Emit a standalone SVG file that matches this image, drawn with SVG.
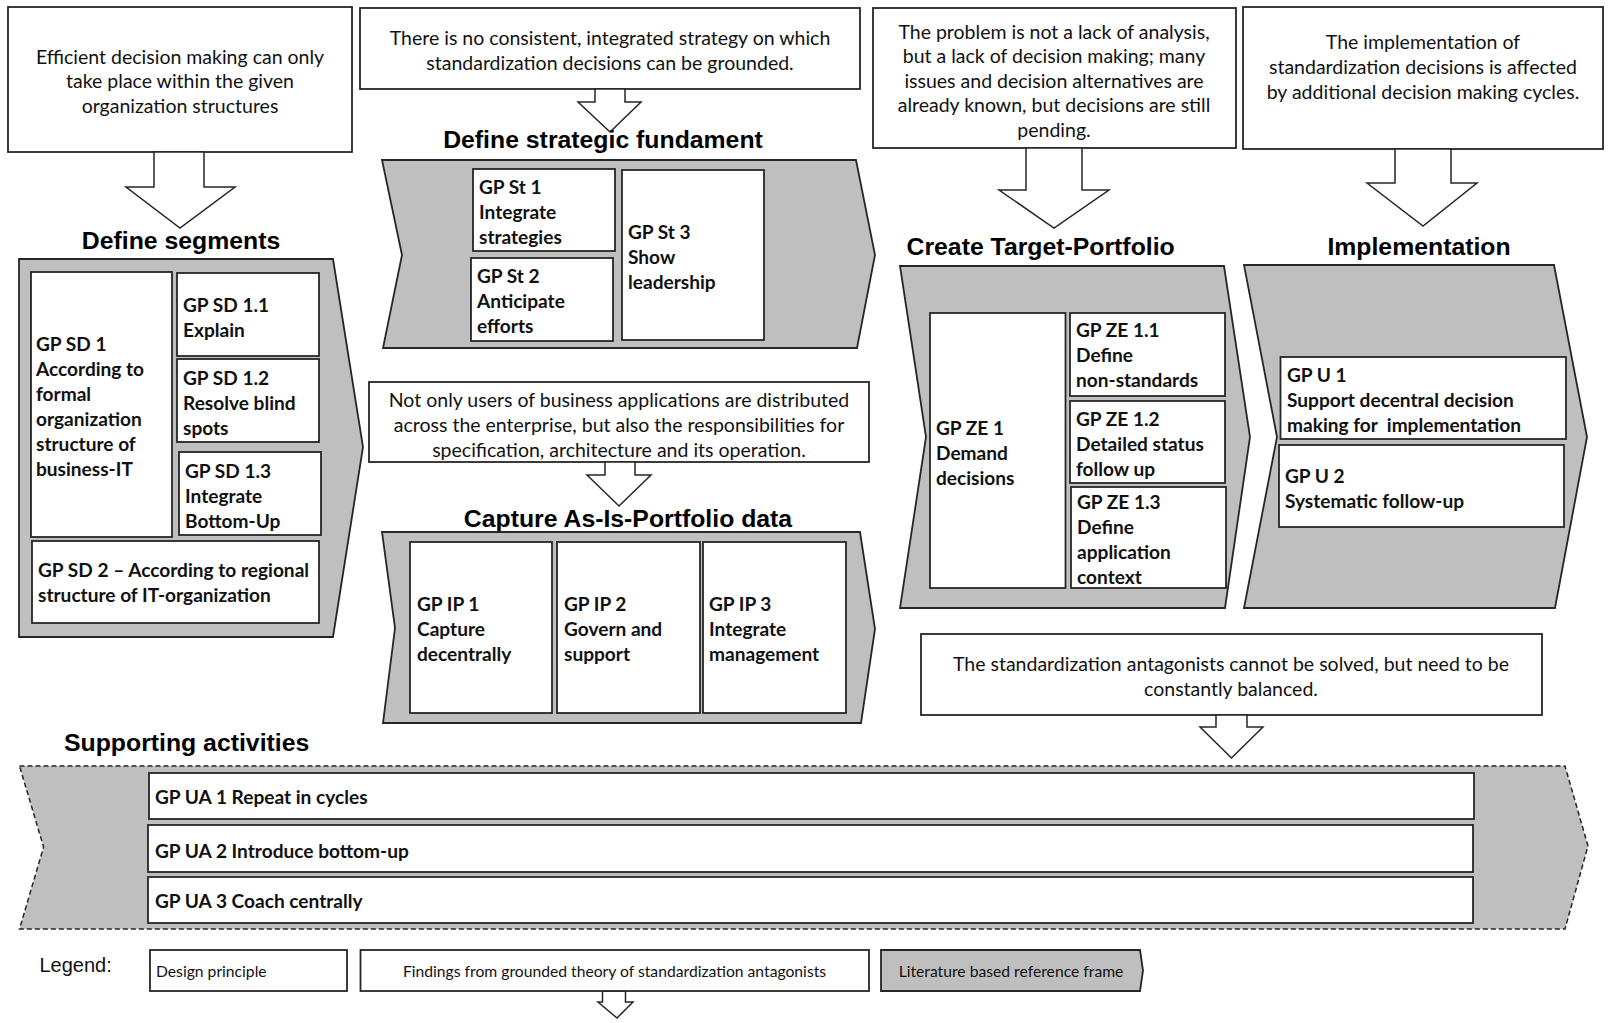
<svg xmlns="http://www.w3.org/2000/svg" width="1609" height="1023" viewBox="0 0 1609 1023">
<style>
.bg{fill:#fff}
.box{fill:#fff;stroke:#262626;stroke-width:1.8}
.frame{fill:#bfbfbf;stroke:#262626;stroke-width:1.8}
.dash{fill:#bfbfbf;stroke:#262626;stroke-width:1.5;stroke-dasharray:5 3}
.arr{fill:#fff;stroke:#262626;stroke-width:1.5;stroke-linejoin:miter}
.t{font-family:Lato,"Open Sans",sans-serif;font-size:19.5px;fill:#111}
.b{font-weight:bold;font-size:19.1px}
.c{text-anchor:middle}
.s{font-size:15.7px}
.h{font-family:"Liberation Sans",Arial,sans-serif;font-weight:bold;font-size:24.8px;fill:#000}
.lg{font-family:"Liberation Sans",Arial,sans-serif;font-size:20px;fill:#111}
</style>
<rect class="bg" x="0" y="0" width="1609" height="1023"/>

<!-- Findings (notes) -->
<g id="note1">
<rect class="box" x="8" y="7" width="344" height="145"/>
<text class="t c" x="180" y="63.5">Efficient decision making can only</text>
<text class="t c" x="180" y="88">take place within the given</text>
<text class="t c" x="180" y="113">organization structures</text>
</g>
<g id="note2">
<rect class="box" x="360" y="8" width="500" height="81"/>
<text class="t c" x="610" y="45">There is no consistent, integrated strategy on which</text>
<text class="t c" x="610" y="70">standardization decisions can be grounded.</text>
</g>
<g id="note3">
<rect class="box" x="873" y="8" width="363" height="140"/>
<text class="t c" x="1054" y="38.5">The problem is not a lack of analysis,</text>
<text class="t c" x="1054" y="63">but a lack of decision making; many</text>
<text class="t c" x="1054" y="87.5">issues and decision alternatives are</text>
<text class="t c" x="1054" y="112">already known, but decisions are still</text>
<text class="t c" x="1054" y="136.5">pending.</text>
</g>
<g id="note4">
<rect class="box" x="1243" y="7" width="360" height="142"/>
<text class="t c" x="1423" y="49">The implementation of</text>
<text class="t c" x="1423" y="74">standardization decisions is affected</text>
<text class="t c" x="1423" y="99">by additional decision making cycles.</text>
</g>
<g id="note5">
<rect class="box" x="369" y="382" width="500" height="80"/>
<text class="t c" x="619" y="407">Not only users of business applications are distributed</text>
<text class="t c" x="619" y="432">across the enterprise, but also the responsibilities for</text>
<text class="t c" x="619" y="457">specification, architecture and its operation.</text>
</g>
<g id="note6">
<rect class="box" x="921" y="634" width="621" height="81"/>
<text class="t c" x="1231" y="671">The standardization antagonists cannot be solved, but need to be</text>
<text class="t c" x="1231" y="696">constantly balanced.</text>
</g>

<!-- Connectors (block arrows) -->
<g id="connectors">
<polygon class="arr" points="154,152 154,187 126,187 180,228 235,187 204,187 204,152"/>
<polygon class="arr" points="595,89 595,102 578,102 610,132 641,102 625,102 625,89"/>
<polygon class="arr" points="1026,148 1026,190 999,190 1054,228 1109,190 1082,190 1082,148"/>
<polygon class="arr" points="1395,149 1395,183 1367,183 1423,226 1477,183 1451,183 1451,149"/>
<polygon class="arr" points="605,462 605,475 587,475 619,506 651,475 635,475 635,462"/>
<polygon class="arr" points="1216,715 1216,727 1200,727 1231.5,758 1263,727 1247,727 1247,715"/>
<polygon class="arr" points="602.5,991 602.5,1002 598,1002 617,1018 633,1002 625.5,1002 625.5,991"/>
</g>

<!-- Define segments -->
<g id="define-segments">
<text class="h c" x="181" y="249">Define segments</text>
<polygon class="frame" points="19,259 333,259 363,447 333,637 19,637"/>
<g id="gp-sd-1">
<rect class="box" x="31" y="272" width="141" height="265"/>
<text class="t b" x="36" y="351">GP SD 1</text>
<text class="t b" x="36" y="376">According to</text>
<text class="t b" x="36" y="401">formal</text>
<text class="t b" x="36" y="426">organization</text>
<text class="t b" x="36" y="451">structure of</text>
<text class="t b" x="36" y="476">business-IT</text>
</g>
<g id="gp-sd-1-1">
<rect class="box" x="177" y="273" width="142" height="83"/>
<text class="t b" x="183" y="312">GP SD 1.1</text>
<text class="t b" x="183" y="337">Explain</text>
</g>
<g id="gp-sd-1-2">
<rect class="box" x="177" y="359" width="142" height="83"/>
<text class="t b" x="183" y="385">GP SD 1.2</text>
<text class="t b" x="183" y="410">Resolve blind</text>
<text class="t b" x="183" y="435">spots</text>
</g>
<g id="gp-sd-1-3">
<rect class="box" x="179" y="452" width="142" height="83"/>
<text class="t b" x="185" y="478">GP SD 1.3</text>
<text class="t b" x="185" y="503">Integrate</text>
<text class="t b" x="185" y="528">Bottom-Up</text>
</g>
<g id="gp-sd-2">
<rect class="box" x="32" y="541" width="287" height="82"/>
<text class="t b" x="38" y="577">GP SD 2 – According to regional</text>
<text class="t b" x="38" y="602">structure of IT-organization</text>
</g>
</g>

<!-- Define strategic fundament -->
<g id="define-strategic-fundament">
<text class="h c" x="603" y="148">Define strategic fundament</text>
<polygon class="frame" points="382,160 856,160 875,255 857,348 383,348 402,255"/>
<g id="gp-st-1">
<rect class="box" x="473" y="169" width="142" height="82"/>
<text class="t b" x="479" y="194">GP St 1</text>
<text class="t b" x="479" y="219">Integrate</text>
<text class="t b" x="479" y="244">strategies</text>
</g>
<g id="gp-st-2">
<rect class="box" x="471" y="258" width="142" height="83"/>
<text class="t b" x="477" y="283">GP St 2</text>
<text class="t b" x="477" y="308">Anticipate</text>
<text class="t b" x="477" y="333">efforts</text>
</g>
<g id="gp-st-3">
<rect class="box" x="622" y="170" width="142" height="170"/>
<text class="t b" x="628" y="239">GP St 3</text>
<text class="t b" x="628" y="264">Show</text>
<text class="t b" x="628" y="289">leadership</text>
</g>
</g>

<!-- Capture As-Is-Portfolio data -->
<g id="capture-as-is">
<text class="h c" x="628" y="527">Capture As-Is-Portfolio data</text>
<polygon class="frame" points="382,532 860,532 875,629 861,723 383,723 395,628"/>
<g id="gp-ip-1">
<rect class="box" x="410" y="542" width="142" height="171"/>
<text class="t b" x="417" y="611">GP IP 1</text>
<text class="t b" x="417" y="636">Capture</text>
<text class="t b" x="417" y="661">decentrally</text>
</g>
<g id="gp-ip-2">
<rect class="box" x="557" y="542" width="143" height="171"/>
<text class="t b" x="564" y="611">GP IP 2</text>
<text class="t b" x="564" y="636">Govern and</text>
<text class="t b" x="564" y="661">support</text>
</g>
<g id="gp-ip-3">
<rect class="box" x="703" y="542" width="143" height="171"/>
<text class="t b" x="709" y="611">GP IP 3</text>
<text class="t b" x="709" y="636">Integrate</text>
<text class="t b" x="709" y="661">management</text>
</g>
</g>

<!-- Create Target-Portfolio -->
<g id="create-target-portfolio">
<text class="h" x="906.5" y="255">Create Target-Portfolio</text>
<polygon class="frame" points="900,266 1224,266 1250,437 1225,608 900,608 926,437"/>
<g id="gp-ze-1">
<rect class="box" x="930" y="313" width="135.5" height="275"/>
<text class="t b" x="936" y="435">GP ZE 1</text>
<text class="t b" x="936" y="460">Demand</text>
<text class="t b" x="936" y="485">decisions</text>
</g>
<g id="gp-ze-1-1">
<rect class="box" x="1070" y="313" width="155" height="83"/>
<text class="t b" x="1076" y="337">GP ZE 1.1</text>
<text class="t b" x="1076" y="362">Define</text>
<text class="t b" x="1076" y="387">non-standards</text>
</g>
<g id="gp-ze-1-2">
<rect class="box" x="1070" y="401" width="155" height="82"/>
<text class="t b" x="1076" y="426">GP ZE 1.2</text>
<text class="t b" x="1076" y="451">Detailed status</text>
<text class="t b" x="1076" y="476">follow up</text>
</g>
<g id="gp-ze-1-3">
<rect class="box" x="1071" y="487" width="155" height="101"/>
<text class="t b" x="1077" y="509">GP ZE 1.3</text>
<text class="t b" x="1077" y="534">Define</text>
<text class="t b" x="1077" y="559">application</text>
<text class="t b" x="1077" y="584">context</text>
</g>
</g>

<!-- Implementation -->
<g id="implementation">
<text class="h c" x="1419" y="255">Implementation</text>
<polygon class="frame" points="1244,265 1554,265 1587,437 1555,608 1244,608 1277,437"/>
<g id="gp-u-1">
<rect class="box" x="1280.5" y="357" width="285.5" height="82"/>
<text class="t b" x="1287" y="382">GP U 1</text>
<text class="t b" x="1287" y="407">Support decentral decision</text>
<text class="t b" x="1287" y="432">making for&#160; implementation</text>
</g>
<g id="gp-u-2">
<rect class="box" x="1279" y="445" width="285" height="82"/>
<text class="t b" x="1285" y="483">GP U 2</text>
<text class="t b" x="1285" y="508">Systematic follow-up</text>
</g>
</g>

<!-- Supporting activities -->
<g id="supporting-activities">
<text class="h" x="64" y="751">Supporting activities</text>
<polygon class="dash" points="19.5,766 1565,766 1588,846 1565,929 19.5,929 43.6,847"/>
<g id="gp-ua-1">
<rect class="box" x="149" y="773" width="1325" height="46"/>
<text class="t b" x="155" y="804">GP UA 1 Repeat in cycles</text>
</g>
<g id="gp-ua-2">
<rect class="box" x="148" y="825" width="1325" height="47"/>
<text class="t b" x="155" y="858">GP UA 2 Introduce bottom-up</text>
</g>
<g id="gp-ua-3">
<rect class="box" x="148" y="877" width="1325" height="46"/>
<text class="t b" x="155" y="908">GP UA 3 Coach centrally</text>
</g>
</g>

<!-- Legend -->
<g id="legend">
<text class="lg" x="39.5" y="972">Legend:</text>
<g id="legend-design-principle">
<rect class="box" x="150" y="950" width="197" height="41"/>
<text class="t s" x="156" y="977">Design principle</text>
</g>
<g id="legend-findings">
<rect class="box" x="360.5" y="950" width="508.5" height="41"/>
<text class="t s c" x="614.5" y="977">Findings from grounded theory of standardization antagonists</text>
</g>
<g id="legend-reference-frame">
<polygon class="frame" points="881,950 1140,950 1143,970.5 1140,991 881,991"/>
<text class="t s c" x="1011" y="977">Literature based reference frame</text>
</g>
</g>
</svg>
